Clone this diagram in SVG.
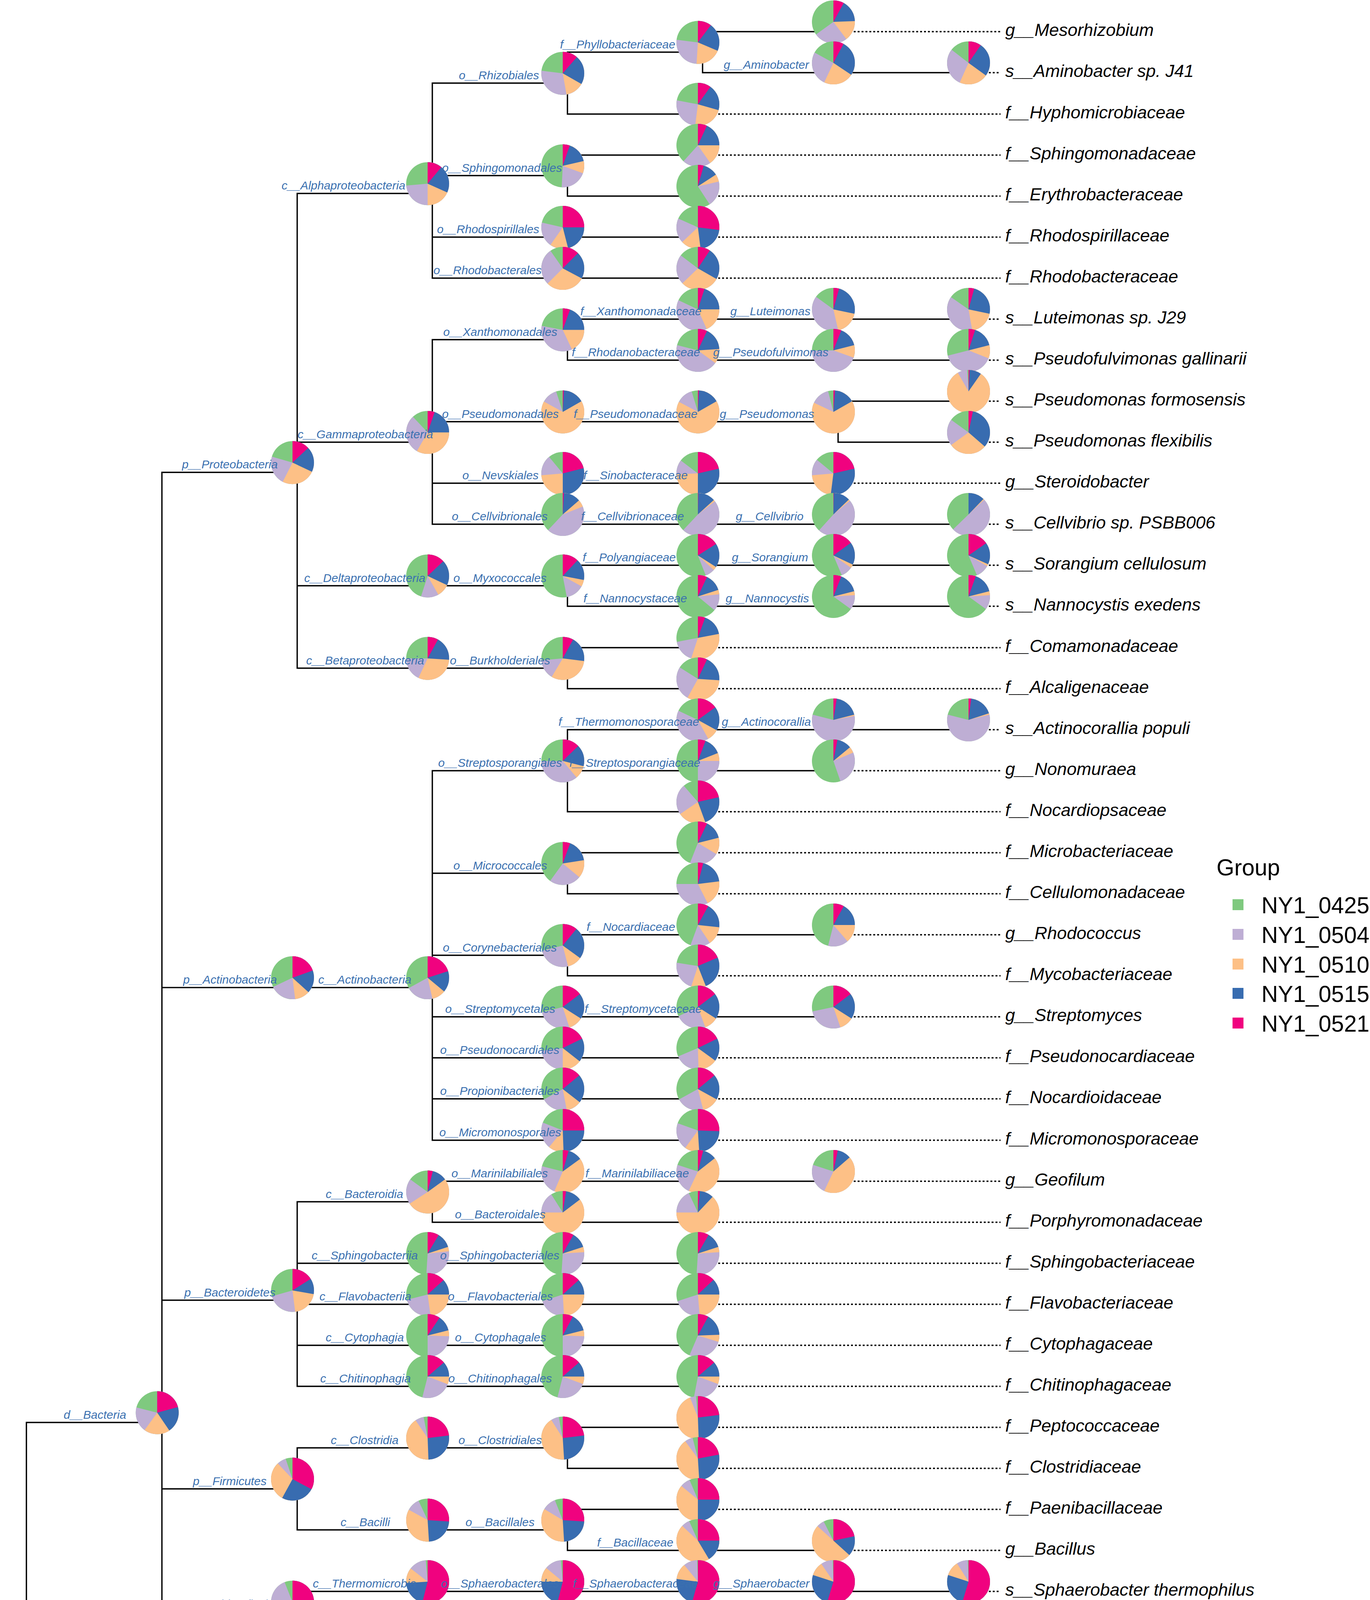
<svg xmlns="http://www.w3.org/2000/svg" width="3508" height="4948" viewBox="0 0 3508 4948">
<style>
.G{fill:#7FC97F}
.P,.O,.B,.K{fill:none;stroke-width:55}
.P{stroke:#BEAED4}.O{stroke:#FDC086}.B{stroke:#386CB0}.K{stroke:#F0027F}
.lb{font-family:"Liberation Sans",Arial,sans-serif;font-style:italic;font-size:30px;fill:#3A70B0}
.tl{font-family:"Liberation Sans",Arial,sans-serif;font-style:italic;font-size:45px;fill:#000}
.lg{font-family:"Liberation Sans",Arial,sans-serif;font-size:58.5px;fill:#000}
.e{fill:none;stroke:#000;stroke-width:3.4;stroke-linecap:square}
.d{fill:none;stroke:#000;stroke-width:3.4;stroke-dasharray:5 5}
</style>
<rect width="3508" height="4948" fill="#fff"/>
<g id="connectors">
<path class="e" d="M67.6 3641.5V4915M67.6 3641.5H414.6M67.6 4705H414.6M67.6 4810H414.6M67.6 4915H2146
M414.6 1209.3V4600M414.6 1209.3H761M414.6 2528.1H1107M414.6 3328.5H761M414.6 3811.5H761M414.6 4126.5H761M414.6 4285H761M414.6 4390H1799M414.6 4495H761M414.6 4600H761
M761 495.3V1710.5M761 495.3H1107M761 1132H1107M761 1499.5H1453M761 1710.5H1453
M1107 212.75V712M1107 212.75H1453M1107 449.5H1453M1107 607H1799M1107 712H1799
M1453 133.5V292M1453 133.5H1799M1453 292H1799
M1799 81V186M1799 81H2146M1799 186H2492
M1453 397V502M1453 397H1799M1453 502H1799
M1107 869.5V1342M1107 869.5H1453M1107 1079.5H2146M1107 1237H2146M1107 1342H2492
M1453 817V922M1453 817H2492M1453 922H2492
M2146 1027V1132M2146 1027H2492M2146 1132H2492
M1453 1447V1552M1453 1447H2492M1453 1552H2492
M1453 1658V1763M1453 1658H1799M1453 1763H1799
M1107 1973V2919M1107 1973H1453M1107 2235.5H1453M1107 2445.5H1453M1107 2603H2146M1107 2708H1799M1107 2813H1799M1107 2919H1799
M1453 1868V2078M1453 1868H2492M1453 1973H2146M1453 2078H1799
M1453 2183V2288M1453 2183H1799M1453 2288H1799
M1453 2393V2498M1453 2393H2146M1453 2498H1799
M761 3076.5V3549M761 3076.5H1107M761 3234H1799M761 3339H1799M761 3444H1799M761 3549H1799
M1107 3024V3129M1107 3024H2146M1107 3129H1799
M761 3706.5V3916.5M761 3706.5H1453M761 3916.5H1453
M1453 3654V3759M1453 3654H1799M1453 3759H1799
M1453 3864V3969M1453 3864H1799M1453 3969H2146
M761 4074V4179M761 4074H2492M761 4179H1799"/>
<path class="d" d="M2146 81H2562M2492 186H2562M1799 292H2562M1799 397H2562M1799 502H2562M1799 607H2562M1799 712H2562
M2492 817H2562M2492 922H2562M2492 1027H2562M2492 1132H2562M2146 1237H2562M2492 1342H2562M2492 1447H2562M2492 1552H2562
M1799 1658H2562M1799 1763H2562M2492 1868H2562M2146 1973H2562M1799 2078H2562M1799 2183H2562M1799 2288H2562M2146 2393H2562
M1799 2498H2562M2146 2603H2562M1799 2708H2562M1799 2813H2562M1799 2919H2562M2146 3024H2562M1799 3129H2562
M1799 3234H2562M1799 3339H2562M1799 3444H2562M1799 3549H2562M1799 3654H2562M1799 3759H2562M1799 3864H2562M2146 3969H2562
M2492 4074H2562M1799 4179H2562M761 4285H2562M1799 4390H2562M761 4495H2562M761 4600H2562M414.6 4705H2562M414.6 4810H2562M2146 4915H2562"/>
</g>
<g id="n-root"><g transform="translate(55.6 4492.9) rotate(-90)"><circle class="G" r="55"/><circle class="P" r="27.5" pathLength="100" stroke-dasharray="79.5 100"/><circle class="O" r="27.5" pathLength="100" stroke-dasharray="60 100"/><circle class="B" r="27.5" pathLength="100" stroke-dasharray="39.7 100"/><circle class="K" r="27.5" pathLength="100" stroke-dasharray="19 100"/></g><text class="lb" x="115" y="4520">r__Root</text></g>
<g id="n-bacteria"><g transform="translate(402.6 3616.5) rotate(-90)"><circle class="G" r="55"/><circle class="P" r="27.5" pathLength="100" stroke-dasharray="79 100"/><circle class="O" r="27.5" pathLength="100" stroke-dasharray="60 100"/><circle class="B" r="27.5" pathLength="100" stroke-dasharray="40.5 100"/><circle class="K" r="27.5" pathLength="100" stroke-dasharray="20.7 100"/></g><text class="lb" x="163" y="3631.5">d__Bacteria</text></g>
<g id="n-proteobacteria"><g transform="translate(749 1184.3) rotate(-90)"><circle class="G" r="55"/><circle class="P" r="27.5" pathLength="100" stroke-dasharray="79.5 100"/><circle class="O" r="27.5" pathLength="100" stroke-dasharray="57.5 100"/><circle class="B" r="27.5" pathLength="100" stroke-dasharray="32 100"/><circle class="K" r="27.5" pathLength="100" stroke-dasharray="13 100"/></g><text class="lb" x="466" y="1199.3">p__Proteobacteria</text></g>
<g id="n-alphaproteobacteria"><g transform="translate(1095 470.3) rotate(-90)"><circle class="G" r="55"/><circle class="P" r="27.5" pathLength="100" stroke-dasharray="73.6 100"/><circle class="O" r="27.5" pathLength="100" stroke-dasharray="50 100"/><circle class="B" r="27.5" pathLength="100" stroke-dasharray="31.7 100"/><circle class="K" r="27.5" pathLength="100" stroke-dasharray="11 100"/></g><text class="lb" x="721" y="485.3">c__Alphaproteobacteria</text></g>
<g id="n-rhizobiales"><g transform="translate(1441 187.75) rotate(-90)"><circle class="G" r="55"/><circle class="P" r="27.5" pathLength="100" stroke-dasharray="77 100"/><circle class="O" r="27.5" pathLength="100" stroke-dasharray="47.2 100"/><circle class="B" r="27.5" pathLength="100" stroke-dasharray="33.3 100"/><circle class="K" r="27.5" pathLength="100" stroke-dasharray="11.4 100"/></g><text class="lb" x="1175" y="202.75">o__Rhizobiales</text></g>
<g id="n-phyllobacteriaceae"><g transform="translate(1787 108.5) rotate(-90)"><circle class="G" r="55"/><circle class="P" r="27.5" pathLength="100" stroke-dasharray="77 100"/><circle class="O" r="27.5" pathLength="100" stroke-dasharray="51 100"/><circle class="B" r="27.5" pathLength="100" stroke-dasharray="31.4 100"/><circle class="K" r="27.5" pathLength="100" stroke-dasharray="10.3 100"/></g><text class="lb" x="1434" y="123.5">f__Phyllobacteriaceae</text></g>
<g id="n-mesorhizobium"><g transform="translate(2134 56) rotate(-90)"><circle class="G" r="55"/><circle class="P" r="27.5" pathLength="100" stroke-dasharray="65 100"/><circle class="O" r="27.5" pathLength="100" stroke-dasharray="39.7 100"/><circle class="B" r="27.5" pathLength="100" stroke-dasharray="24.4 100"/><circle class="K" r="27.5" pathLength="100" stroke-dasharray="8 100"/></g><text class="tl" x="2574" y="92">g__Mesorhizobium</text></g>
<g id="n-aminobacter-g"><g transform="translate(2134 161) rotate(-90)"><circle class="G" r="55"/><circle class="P" r="27.5" pathLength="100" stroke-dasharray="83 100"/><circle class="O" r="27.5" pathLength="100" stroke-dasharray="57 100"/><circle class="B" r="27.5" pathLength="100" stroke-dasharray="34.4 100"/><circle class="K" r="27.5" pathLength="100" stroke-dasharray="7.8 100"/></g><text class="lb" x="1853" y="176">g__Aminobacter</text></g>
<g id="n-aminobacter-s"><g transform="translate(2480 161) rotate(-90)"><circle class="G" r="55"/><circle class="P" r="27.5" pathLength="100" stroke-dasharray="85.5 100"/><circle class="O" r="27.5" pathLength="100" stroke-dasharray="56.7 100"/><circle class="B" r="27.5" pathLength="100" stroke-dasharray="35 100"/><circle class="K" r="27.5" pathLength="100" stroke-dasharray="9.6 100"/></g><text class="tl" x="2574" y="197">s__Aminobacter sp. J41</text></g>
<g id="n-hyphomicrobiaceae"><g transform="translate(1787 267) rotate(-90)"><circle class="G" r="55"/><circle class="P" r="27.5" pathLength="100" stroke-dasharray="78 100"/><circle class="O" r="27.5" pathLength="100" stroke-dasharray="52 100"/><circle class="B" r="27.5" pathLength="100" stroke-dasharray="29.4 100"/><circle class="K" r="27.5" pathLength="100" stroke-dasharray="9.9 100"/></g><text class="tl" x="2574" y="303">f__Hyphomicrobiaceae</text></g>
<g id="n-sphingomonadales"><g transform="translate(1441 424.5) rotate(-90)"><circle class="G" r="55"/><circle class="P" r="27.5" pathLength="100" stroke-dasharray="50.8 100"/><circle class="O" r="27.5" pathLength="100" stroke-dasharray="30.6 100"/><circle class="B" r="27.5" pathLength="100" stroke-dasharray="21.4 100"/><circle class="K" r="27.5" pathLength="100" stroke-dasharray="5.3 100"/></g><text class="lb" x="1132" y="439.5">o__Sphingomonadales</text></g>
<g id="n-sphingomonadaceae"><g transform="translate(1787 372) rotate(-90)"><circle class="G" r="55"/><circle class="P" r="27.5" pathLength="100" stroke-dasharray="61.7 100"/><circle class="O" r="27.5" pathLength="100" stroke-dasharray="40.3 100"/><circle class="B" r="27.5" pathLength="100" stroke-dasharray="25 100"/><circle class="K" r="27.5" pathLength="100" stroke-dasharray="6.9 100"/></g><text class="tl" x="2574" y="408">f__Sphingomonadaceae</text></g>
<g id="n-erythrobacteraceae"><g transform="translate(1787 477) rotate(-90)"><circle class="G" r="55"/><circle class="P" r="27.5" pathLength="100" stroke-dasharray="40.8 100"/><circle class="O" r="27.5" pathLength="100" stroke-dasharray="21.4 100"/><circle class="B" r="27.5" pathLength="100" stroke-dasharray="15.8 100"/><circle class="K" r="27.5" pathLength="100" stroke-dasharray="4.4 100"/></g><text class="tl" x="2574" y="513">f__Erythrobacteraceae</text></g>
<g id="n-rhodospirillales"><g transform="translate(1441 582) rotate(-90)"><circle class="G" r="55"/><circle class="P" r="27.5" pathLength="100" stroke-dasharray="78.6 100"/><circle class="O" r="27.5" pathLength="100" stroke-dasharray="59.7 100"/><circle class="B" r="27.5" pathLength="100" stroke-dasharray="46 100"/><circle class="K" r="27.5" pathLength="100" stroke-dasharray="25 100"/></g><text class="lb" x="1119" y="597">o__Rhodospirillales</text></g>
<g id="n-rhodospirillaceae"><g transform="translate(1787 582) rotate(-90)"><circle class="G" r="55"/><circle class="P" r="27.5" pathLength="100" stroke-dasharray="81.7 100"/><circle class="O" r="27.5" pathLength="100" stroke-dasharray="63 100"/><circle class="B" r="27.5" pathLength="100" stroke-dasharray="48 100"/><circle class="K" r="27.5" pathLength="100" stroke-dasharray="27 100"/></g><text class="tl" x="2574" y="618">f__Rhodospirillaceae</text></g>
<g id="n-rhodobacterales"><g transform="translate(1441 687) rotate(-90)"><circle class="G" r="55"/><circle class="P" r="27.5" pathLength="100" stroke-dasharray="90.3 100"/><circle class="O" r="27.5" pathLength="100" stroke-dasharray="62.5 100"/><circle class="B" r="27.5" pathLength="100" stroke-dasharray="32.8 100"/><circle class="K" r="27.5" pathLength="100" stroke-dasharray="12.5 100"/></g><text class="lb" x="1110" y="702">o__Rhodobacterales</text></g>
<g id="n-rhodobacteraceae"><g transform="translate(1787 687) rotate(-90)"><circle class="G" r="55"/><circle class="P" r="27.5" pathLength="100" stroke-dasharray="85.3 100"/><circle class="O" r="27.5" pathLength="100" stroke-dasharray="62.8 100"/><circle class="B" r="27.5" pathLength="100" stroke-dasharray="33.3 100"/><circle class="K" r="27.5" pathLength="100" stroke-dasharray="9.4 100"/></g><text class="tl" x="2574" y="723">f__Rhodobacteraceae</text></g>
<g id="n-gammaproteobacteria"><g transform="translate(1095 1107) rotate(-90)"><circle class="G" r="55"/><circle class="P" r="27.5" pathLength="100" stroke-dasharray="88 100"/><circle class="O" r="27.5" pathLength="100" stroke-dasharray="58.3 100"/><circle class="B" r="27.5" pathLength="100" stroke-dasharray="25 100"/><circle class="K" r="27.5" pathLength="100" stroke-dasharray="5.3 100"/></g><text class="lb" x="762" y="1122">c__Gammaproteobacteria</text></g>
<g id="n-xanthomonadales"><g transform="translate(1441 844.5) rotate(-90)"><circle class="G" r="55"/><circle class="P" r="27.5" pathLength="100" stroke-dasharray="78 100"/><circle class="O" r="27.5" pathLength="100" stroke-dasharray="43 100"/><circle class="B" r="27.5" pathLength="100" stroke-dasharray="25 100"/><circle class="K" r="27.5" pathLength="100" stroke-dasharray="5.5 100"/></g><text class="lb" x="1135" y="859.5">o__Xanthomonadales</text></g>
<g id="n-xanthomonadaceae"><g transform="translate(1787 792) rotate(-90)"><circle class="G" r="55"/><circle class="P" r="27.5" pathLength="100" stroke-dasharray="82 100"/><circle class="O" r="27.5" pathLength="100" stroke-dasharray="43.3 100"/><circle class="B" r="27.5" pathLength="100" stroke-dasharray="25 100"/><circle class="K" r="27.5" pathLength="100" stroke-dasharray="5 100"/></g><text class="lb" x="1486" y="807">f__Xanthomonadaceae</text></g>
<g id="n-luteimonas-g"><g transform="translate(2134 792) rotate(-90)"><circle class="G" r="55"/><circle class="P" r="27.5" pathLength="100" stroke-dasharray="85 100"/><circle class="O" r="27.5" pathLength="100" stroke-dasharray="46.4 100"/><circle class="B" r="27.5" pathLength="100" stroke-dasharray="28.3 100"/><circle class="K" r="27.5" pathLength="100" stroke-dasharray="4.3 100"/></g><text class="lb" x="1870" y="807">g__Luteimonas</text></g>
<g id="n-luteimonas-s"><g transform="translate(2480 792) rotate(-90)"><circle class="G" r="55"/><circle class="P" r="27.5" pathLength="100" stroke-dasharray="84.7 100"/><circle class="O" r="27.5" pathLength="100" stroke-dasharray="47.2 100"/><circle class="B" r="27.5" pathLength="100" stroke-dasharray="28.3 100"/><circle class="K" r="27.5" pathLength="100" stroke-dasharray="4.3 100"/></g><text class="tl" x="2574" y="828">s__Luteimonas sp. J29</text></g>
<g id="n-rhodanobacteraceae"><g transform="translate(1787 897) rotate(-90)"><circle class="G" r="55"/><circle class="P" r="27.5" pathLength="100" stroke-dasharray="79 100"/><circle class="O" r="27.5" pathLength="100" stroke-dasharray="35 100"/><circle class="B" r="27.5" pathLength="100" stroke-dasharray="24 100"/><circle class="K" r="27.5" pathLength="100" stroke-dasharray="7 100"/></g><text class="lb" x="1464" y="912">f__Rhodanobacteraceae</text></g>
<g id="n-pseudofulvimonas-g"><g transform="translate(2134 897) rotate(-90)"><circle class="G" r="55"/><circle class="P" r="27.5" pathLength="100" stroke-dasharray="75 100"/><circle class="O" r="27.5" pathLength="100" stroke-dasharray="30.5 100"/><circle class="B" r="27.5" pathLength="100" stroke-dasharray="21 100"/><circle class="K" r="27.5" pathLength="100" stroke-dasharray="6 100"/></g><text class="lb" x="1826" y="912">g__Pseudofulvimonas</text></g>
<g id="n-pseudofulvimonas-s"><g transform="translate(2480 897) rotate(-90)"><circle class="G" r="55"/><circle class="P" r="27.5" pathLength="100" stroke-dasharray="71 100"/><circle class="O" r="27.5" pathLength="100" stroke-dasharray="31 100"/><circle class="B" r="27.5" pathLength="100" stroke-dasharray="21 100"/><circle class="K" r="27.5" pathLength="100" stroke-dasharray="5 100"/></g><text class="tl" x="2574" y="933">s__Pseudofulvimonas gallinarii</text></g>
<g id="n-pseudomonadales"><g transform="translate(1441 1054.5) rotate(-90)"><circle class="G" r="55"/><circle class="P" r="27.5" pathLength="100" stroke-dasharray="95 100"/><circle class="O" r="27.5" pathLength="100" stroke-dasharray="83 100"/><circle class="B" r="27.5" pathLength="100" stroke-dasharray="16.7 100"/><circle class="K" r="27.5" pathLength="100" stroke-dasharray="0.8 100"/></g><text class="lb" x="1132" y="1069.5">o__Pseudomonadales</text></g>
<g id="n-pseudomonadaceae"><g transform="translate(1787 1054.5) rotate(-90)"><circle class="G" r="55"/><circle class="P" r="27.5" pathLength="100" stroke-dasharray="95.3 100"/><circle class="O" r="27.5" pathLength="100" stroke-dasharray="82.8 100"/><circle class="B" r="27.5" pathLength="100" stroke-dasharray="16.7 100"/><circle class="K" r="27.5" pathLength="100" stroke-dasharray="0.8 100"/></g><text class="lb" x="1469" y="1069.5">f__Pseudomonadaceae</text></g>
<g id="n-pseudomonas-g"><g transform="translate(2134 1054.5) rotate(-90)"><circle class="G" r="55"/><circle class="P" r="27.5" pathLength="100" stroke-dasharray="96 100"/><circle class="O" r="27.5" pathLength="100" stroke-dasharray="82 100"/><circle class="B" r="27.5" pathLength="100" stroke-dasharray="16.7 100"/><circle class="K" r="27.5" pathLength="100" stroke-dasharray="1.2 100"/></g><text class="lb" x="1843" y="1069.5">g__Pseudomonas</text></g>
<g id="n-pseudomonas-formosensis"><g transform="translate(2480 1002) rotate(-90)"><circle class="G" r="55"/><circle class="P" r="27.5" pathLength="100" stroke-dasharray="99 100"/><circle class="O" r="27.5" pathLength="100" stroke-dasharray="91.7 100"/><circle class="B" r="27.5" pathLength="100" stroke-dasharray="9.7 100"/><circle class="K" r="27.5" pathLength="100" stroke-dasharray="0.8 100"/></g><text class="tl" x="2574" y="1038">s__Pseudomonas formosensis</text></g>
<g id="n-pseudomonas-flexibilis"><g transform="translate(2480 1107) rotate(-90)"><circle class="G" r="55"/><circle class="P" r="27.5" pathLength="100" stroke-dasharray="85 100"/><circle class="O" r="27.5" pathLength="100" stroke-dasharray="65 100"/><circle class="B" r="27.5" pathLength="100" stroke-dasharray="36.4 100"/><circle class="K" r="27.5" pathLength="100" stroke-dasharray="3.3 100"/></g><text class="tl" x="2574" y="1143">s__Pseudomonas flexibilis</text></g>
<g id="n-nevskiales"><g transform="translate(1441 1212) rotate(-90)"><circle class="G" r="55"/><circle class="P" r="27.5" pathLength="100" stroke-dasharray="89 100"/><circle class="O" r="27.5" pathLength="100" stroke-dasharray="73.6 100"/><circle class="B" r="27.5" pathLength="100" stroke-dasharray="50 100"/><circle class="K" r="27.5" pathLength="100" stroke-dasharray="21 100"/></g><text class="lb" x="1184" y="1227">o__Nevskiales</text></g>
<g id="n-sinobacteraceae"><g transform="translate(1787 1212) rotate(-90)"><circle class="G" r="55"/><circle class="P" r="27.5" pathLength="100" stroke-dasharray="85.3 100"/><circle class="O" r="27.5" pathLength="100" stroke-dasharray="74.4 100"/><circle class="B" r="27.5" pathLength="100" stroke-dasharray="50 100"/><circle class="K" r="27.5" pathLength="100" stroke-dasharray="21.4 100"/></g><text class="lb" x="1494" y="1227">f__Sinobacteraceae</text></g>
<g id="n-steroidobacter"><g transform="translate(2134 1212) rotate(-90)"><circle class="G" r="55"/><circle class="P" r="27.5" pathLength="100" stroke-dasharray="86 100"/><circle class="O" r="27.5" pathLength="100" stroke-dasharray="73.6 100"/><circle class="B" r="27.5" pathLength="100" stroke-dasharray="52 100"/><circle class="K" r="27.5" pathLength="100" stroke-dasharray="21.4 100"/></g><text class="tl" x="2574" y="1248">g__Steroidobacter</text></g>
<g id="n-cellvibrionales"><g transform="translate(1441 1317) rotate(-90)"><circle class="G" r="55"/><circle class="P" r="27.5" pathLength="100" stroke-dasharray="62 100"/><circle class="O" r="27.5" pathLength="100" stroke-dasharray="19 100"/><circle class="B" r="27.5" pathLength="100" stroke-dasharray="13.6 100"/><circle class="K" r="27.5" pathLength="100" stroke-dasharray="0.8 100"/></g><text class="lb" x="1157" y="1332">o__Cellvibrionales</text></g>
<g id="n-cellvibrionaceae"><g transform="translate(1787 1317) rotate(-90)"><circle class="G" r="55"/><circle class="P" r="27.5" pathLength="100" stroke-dasharray="62 100"/><circle class="O" r="27.5" pathLength="100" stroke-dasharray="14.5 100"/><circle class="B" r="27.5" pathLength="100" stroke-dasharray="13.3 100"/><circle class="K" r="27.5" pathLength="100" stroke-dasharray="0.3 100"/></g><text class="lb" x="1488" y="1332">f__Cellvibrionaceae</text></g>
<g id="n-cellvibrio-g"><g transform="translate(2134 1317) rotate(-90)"><circle class="G" r="55"/><circle class="P" r="27.5" pathLength="100" stroke-dasharray="61.7 100"/><circle class="O" r="27.5" pathLength="100" stroke-dasharray="13.9 100"/><circle class="B" r="27.5" pathLength="100" stroke-dasharray="12.8 100"/><circle class="K" r="27.5" pathLength="100" stroke-dasharray="0.3 100"/></g><text class="lb" x="1884" y="1332">g__Cellvibrio</text></g>
<g id="n-cellvibrio-s"><g transform="translate(2480 1317) rotate(-90)"><circle class="G" r="55"/><circle class="P" r="27.5" pathLength="100" stroke-dasharray="62.8 100"/><circle class="O" r="27.5" pathLength="100" stroke-dasharray="13 100"/><circle class="B" r="27.5" pathLength="100" stroke-dasharray="12.2 100"/></g><text class="tl" x="2574" y="1353">s__Cellvibrio sp. PSBB006</text></g>
<g id="n-deltaproteobacteria"><g transform="translate(1095 1474.5) rotate(-90)"><circle class="G" r="55"/><circle class="P" r="27.5" pathLength="100" stroke-dasharray="55 100"/><circle class="O" r="27.5" pathLength="100" stroke-dasharray="41.7 100"/><circle class="B" r="27.5" pathLength="100" stroke-dasharray="32 100"/><circle class="K" r="27.5" pathLength="100" stroke-dasharray="13 100"/></g><text class="lb" x="779" y="1489.5">c__Deltaproteobacteria</text></g>
<g id="n-myxococcales"><g transform="translate(1441 1474.5) rotate(-90)"><circle class="G" r="55"/><circle class="P" r="27.5" pathLength="100" stroke-dasharray="47 100"/><circle class="O" r="27.5" pathLength="100" stroke-dasharray="33 100"/><circle class="B" r="27.5" pathLength="100" stroke-dasharray="28 100"/><circle class="K" r="27.5" pathLength="100" stroke-dasharray="12 100"/></g><text class="lb" x="1161" y="1489.5">o__Myxococcales</text></g>
<g id="n-polyangiaceae"><g transform="translate(1787 1422) rotate(-90)"><circle class="G" r="55"/><circle class="P" r="27.5" pathLength="100" stroke-dasharray="44 100"/><circle class="O" r="27.5" pathLength="100" stroke-dasharray="36.7 100"/><circle class="B" r="27.5" pathLength="100" stroke-dasharray="34 100"/><circle class="K" r="27.5" pathLength="100" stroke-dasharray="16 100"/></g><text class="lb" x="1492" y="1437">f__Polyangiaceae</text></g>
<g id="n-sorangium-g"><g transform="translate(2134 1422) rotate(-90)"><circle class="G" r="55"/><circle class="P" r="27.5" pathLength="100" stroke-dasharray="43.6 100"/><circle class="O" r="27.5" pathLength="100" stroke-dasharray="34.7 100"/><circle class="B" r="27.5" pathLength="100" stroke-dasharray="32 100"/><circle class="K" r="27.5" pathLength="100" stroke-dasharray="15 100"/></g><text class="lb" x="1874" y="1437">g__Sorangium</text></g>
<g id="n-sorangium-s"><g transform="translate(2480 1422) rotate(-90)"><circle class="G" r="55"/><circle class="P" r="27.5" pathLength="100" stroke-dasharray="43.6 100"/><circle class="O" r="27.5" pathLength="100" stroke-dasharray="33.3 100"/><circle class="B" r="27.5" pathLength="100" stroke-dasharray="31.7 100"/><circle class="K" r="27.5" pathLength="100" stroke-dasharray="15.3 100"/></g><text class="tl" x="2574" y="1458">s__Sorangium cellulosum</text></g>
<g id="n-nannocystaceae"><g transform="translate(1787 1527) rotate(-90)"><circle class="G" r="55"/><circle class="P" r="27.5" pathLength="100" stroke-dasharray="36 100"/><circle class="O" r="27.5" pathLength="100" stroke-dasharray="23.3 100"/><circle class="B" r="27.5" pathLength="100" stroke-dasharray="20 100"/><circle class="K" r="27.5" pathLength="100" stroke-dasharray="7 100"/></g><text class="lb" x="1494" y="1542">f__Nannocystaceae</text></g>
<g id="n-nannocystis-g"><g transform="translate(2134 1527) rotate(-90)"><circle class="G" r="55"/><circle class="P" r="27.5" pathLength="100" stroke-dasharray="35 100"/><circle class="O" r="27.5" pathLength="100" stroke-dasharray="24 100"/><circle class="B" r="27.5" pathLength="100" stroke-dasharray="21 100"/><circle class="K" r="27.5" pathLength="100" stroke-dasharray="6 100"/></g><text class="lb" x="1858" y="1542">g__Nannocystis</text></g>
<g id="n-nannocystis-s"><g transform="translate(2480 1527) rotate(-90)"><circle class="G" r="55"/><circle class="P" r="27.5" pathLength="100" stroke-dasharray="35 100"/><circle class="O" r="27.5" pathLength="100" stroke-dasharray="24 100"/><circle class="B" r="27.5" pathLength="100" stroke-dasharray="21 100"/><circle class="K" r="27.5" pathLength="100" stroke-dasharray="5.5 100"/></g><text class="tl" x="2574" y="1563">s__Nannocystis exedens</text></g>
<g id="n-betaproteobacteria"><g transform="translate(1095 1685.5) rotate(-90)"><circle class="G" r="55"/><circle class="P" r="27.5" pathLength="100" stroke-dasharray="75 100"/><circle class="O" r="27.5" pathLength="100" stroke-dasharray="57 100"/><circle class="B" r="27.5" pathLength="100" stroke-dasharray="26 100"/><circle class="K" r="27.5" pathLength="100" stroke-dasharray="8 100"/></g><text class="lb" x="784" y="1700.5">c__Betaproteobacteria</text></g>
<g id="n-burkholderiales"><g transform="translate(1441 1685.5) rotate(-90)"><circle class="G" r="55"/><circle class="P" r="27.5" pathLength="100" stroke-dasharray="73.6 100"/><circle class="O" r="27.5" pathLength="100" stroke-dasharray="58.6 100"/><circle class="B" r="27.5" pathLength="100" stroke-dasharray="27 100"/><circle class="K" r="27.5" pathLength="100" stroke-dasharray="8 100"/></g><text class="lb" x="1152" y="1700.5">o__Burkholderiales</text></g>
<g id="n-comamonadaceae"><g transform="translate(1787 1633) rotate(-90)"><circle class="G" r="55"/><circle class="P" r="27.5" pathLength="100" stroke-dasharray="72 100"/><circle class="O" r="27.5" pathLength="100" stroke-dasharray="55 100"/><circle class="B" r="27.5" pathLength="100" stroke-dasharray="22 100"/><circle class="K" r="27.5" pathLength="100" stroke-dasharray="5.5 100"/></g><text class="tl" x="2574" y="1669">f__Comamonadaceae</text></g>
<g id="n-alcaligenaceae"><g transform="translate(1787 1738) rotate(-90)"><circle class="G" r="55"/><circle class="P" r="27.5" pathLength="100" stroke-dasharray="84 100"/><circle class="O" r="27.5" pathLength="100" stroke-dasharray="58 100"/><circle class="B" r="27.5" pathLength="100" stroke-dasharray="26 100"/><circle class="K" r="27.5" pathLength="100" stroke-dasharray="7 100"/></g><text class="tl" x="2574" y="1774">f__Alcaligenaceae</text></g>
<g id="n-actinobacteria-p"><g transform="translate(749 2503.1) rotate(-90)"><circle class="G" r="55"/><circle class="P" r="27.5" pathLength="100" stroke-dasharray="68 100"/><circle class="O" r="27.5" pathLength="100" stroke-dasharray="48 100"/><circle class="B" r="27.5" pathLength="100" stroke-dasharray="36.7 100"/><circle class="K" r="27.5" pathLength="100" stroke-dasharray="19.5 100"/></g><text class="lb" x="469" y="2518.1">p__Actinobacteria</text></g>
<g id="n-actinobacteria-c"><g transform="translate(1095 2503.1) rotate(-90)"><circle class="G" r="55"/><circle class="P" r="27.5" pathLength="100" stroke-dasharray="67 100"/><circle class="O" r="27.5" pathLength="100" stroke-dasharray="46.4 100"/><circle class="B" r="27.5" pathLength="100" stroke-dasharray="36 100"/><circle class="K" r="27.5" pathLength="100" stroke-dasharray="20 100"/></g><text class="lb" x="815" y="2518.1">c__Actinobacteria</text></g>
<g id="n-streptosporangiales"><g transform="translate(1441 1948) rotate(-90)"><circle class="G" r="55"/><circle class="P" r="27.5" pathLength="100" stroke-dasharray="75 100"/><circle class="O" r="27.5" pathLength="100" stroke-dasharray="38.9 100"/><circle class="B" r="27.5" pathLength="100" stroke-dasharray="29 100"/><circle class="K" r="27.5" pathLength="100" stroke-dasharray="12.8 100"/></g><text class="lb" x="1122" y="1963">o__Streptosporangiales</text></g>
<g id="n-thermomonosporaceae"><g transform="translate(1787 1843) rotate(-90)"><circle class="G" r="55"/><circle class="P" r="27.5" pathLength="100" stroke-dasharray="82 100"/><circle class="O" r="27.5" pathLength="100" stroke-dasharray="42 100"/><circle class="B" r="27.5" pathLength="100" stroke-dasharray="33 100"/><circle class="K" r="27.5" pathLength="100" stroke-dasharray="15 100"/></g><text class="lb" x="1430" y="1858">f__Thermomonosporaceae</text></g>
<g id="n-actinocorallia-g"><g transform="translate(2134 1843) rotate(-90)"><circle class="G" r="55"/><circle class="P" r="27.5" pathLength="100" stroke-dasharray="79 100"/><circle class="O" r="27.5" pathLength="100" stroke-dasharray="22 100"/><circle class="B" r="27.5" pathLength="100" stroke-dasharray="21 100"/><circle class="K" r="27.5" pathLength="100" stroke-dasharray="2.5 100"/></g><text class="lb" x="1848" y="1858">g__Actinocorallia</text></g>
<g id="n-actinocorallia-s"><g transform="translate(2480 1843) rotate(-90)"><circle class="G" r="55"/><circle class="P" r="27.5" pathLength="100" stroke-dasharray="79 100"/><circle class="O" r="27.5" pathLength="100" stroke-dasharray="21 100"/><circle class="B" r="27.5" pathLength="100" stroke-dasharray="20 100"/><circle class="K" r="27.5" pathLength="100" stroke-dasharray="2 100"/></g><text class="tl" x="2574" y="1879">s__Actinocorallia populi</text></g>
<g id="n-streptosporangiaceae"><g transform="translate(1787 1948) rotate(-90)"><circle class="G" r="55"/><circle class="P" r="27.5" pathLength="100" stroke-dasharray="50 100"/><circle class="O" r="27.5" pathLength="100" stroke-dasharray="25 100"/><circle class="B" r="27.5" pathLength="100" stroke-dasharray="19 100"/><circle class="K" r="27.5" pathLength="100" stroke-dasharray="5.8 100"/></g><text class="lb" x="1458" y="1963">f__Streptosporangiaceae</text></g>
<g id="n-nonomuraea"><g transform="translate(2134 1948) rotate(-90)"><circle class="G" r="55"/><circle class="P" r="27.5" pathLength="100" stroke-dasharray="44.7 100"/><circle class="O" r="27.5" pathLength="100" stroke-dasharray="18.6 100"/><circle class="B" r="27.5" pathLength="100" stroke-dasharray="14 100"/><circle class="K" r="27.5" pathLength="100" stroke-dasharray="3 100"/></g><text class="tl" x="2574" y="1984">g__Nonomuraea</text></g>
<g id="n-nocardiopsaceae"><g transform="translate(1787 2053) rotate(-90)"><circle class="G" r="55"/><circle class="P" r="27.5" pathLength="100" stroke-dasharray="88.6 100"/><circle class="O" r="27.5" pathLength="100" stroke-dasharray="65.5 100"/><circle class="B" r="27.5" pathLength="100" stroke-dasharray="44.4 100"/><circle class="K" r="27.5" pathLength="100" stroke-dasharray="21.4 100"/></g><text class="tl" x="2574" y="2089">f__Nocardiopsaceae</text></g>
<g id="n-micrococcales"><g transform="translate(1441 2210.5) rotate(-90)"><circle class="G" r="55"/><circle class="P" r="27.5" pathLength="100" stroke-dasharray="60 100"/><circle class="O" r="27.5" pathLength="100" stroke-dasharray="36 100"/><circle class="B" r="27.5" pathLength="100" stroke-dasharray="22.5 100"/><circle class="K" r="27.5" pathLength="100" stroke-dasharray="5.6 100"/></g><text class="lb" x="1161" y="2225.5">o__Micrococcales</text></g>
<g id="n-microbacteriaceae"><g transform="translate(1787 2158) rotate(-90)"><circle class="G" r="55"/><circle class="P" r="27.5" pathLength="100" stroke-dasharray="56 100"/><circle class="O" r="27.5" pathLength="100" stroke-dasharray="33.6 100"/><circle class="B" r="27.5" pathLength="100" stroke-dasharray="21 100"/><circle class="K" r="27.5" pathLength="100" stroke-dasharray="7 100"/></g><text class="tl" x="2574" y="2194">f__Microbacteriaceae</text></g>
<g id="n-cellulomonadaceae"><g transform="translate(1787 2263) rotate(-90)"><circle class="G" r="55"/><circle class="P" r="27.5" pathLength="100" stroke-dasharray="75 100"/><circle class="O" r="27.5" pathLength="100" stroke-dasharray="42.5 100"/><circle class="B" r="27.5" pathLength="100" stroke-dasharray="23 100"/><circle class="K" r="27.5" pathLength="100" stroke-dasharray="4 100"/></g><text class="tl" x="2574" y="2299">f__Cellulomonadaceae</text></g>
<g id="n-corynebacteriales"><g transform="translate(1441 2420.5) rotate(-90)"><circle class="G" r="55"/><circle class="P" r="27.5" pathLength="100" stroke-dasharray="71 100"/><circle class="O" r="27.5" pathLength="100" stroke-dasharray="46 100"/><circle class="B" r="27.5" pathLength="100" stroke-dasharray="35 100"/><circle class="K" r="27.5" pathLength="100" stroke-dasharray="11 100"/></g><text class="lb" x="1134" y="2435.5">o__Corynebacteriales</text></g>
<g id="n-nocardiaceae"><g transform="translate(1787 2368) rotate(-90)"><circle class="G" r="55"/><circle class="P" r="27.5" pathLength="100" stroke-dasharray="55.6 100"/><circle class="O" r="27.5" pathLength="100" stroke-dasharray="40.6 100"/><circle class="B" r="27.5" pathLength="100" stroke-dasharray="26.7 100"/><circle class="K" r="27.5" pathLength="100" stroke-dasharray="8 100"/></g><text class="lb" x="1502" y="2383">f__Nocardiaceae</text></g>
<g id="n-rhodococcus"><g transform="translate(2134 2368) rotate(-90)"><circle class="G" r="55"/><circle class="P" r="27.5" pathLength="100" stroke-dasharray="54 100"/><circle class="O" r="27.5" pathLength="100" stroke-dasharray="38.6 100"/><circle class="B" r="27.5" pathLength="100" stroke-dasharray="25 100"/><circle class="K" r="27.5" pathLength="100" stroke-dasharray="8 100"/></g><text class="tl" x="2574" y="2404">g__Rhodococcus</text></g>
<g id="n-mycobacteriaceae"><g transform="translate(1787 2473) rotate(-90)"><circle class="G" r="55"/><circle class="P" r="27.5" pathLength="100" stroke-dasharray="77.5 100"/><circle class="O" r="27.5" pathLength="100" stroke-dasharray="55 100"/><circle class="B" r="27.5" pathLength="100" stroke-dasharray="44 100"/><circle class="K" r="27.5" pathLength="100" stroke-dasharray="18.6 100"/></g><text class="tl" x="2574" y="2509">f__Mycobacteriaceae</text></g>
<g id="n-streptomycetales"><g transform="translate(1441 2578) rotate(-90)"><circle class="G" r="55"/><circle class="P" r="27.5" pathLength="100" stroke-dasharray="71 100"/><circle class="O" r="27.5" pathLength="100" stroke-dasharray="45 100"/><circle class="B" r="27.5" pathLength="100" stroke-dasharray="34 100"/><circle class="K" r="27.5" pathLength="100" stroke-dasharray="14.7 100"/></g><text class="lb" x="1140" y="2593">o__Streptomycetales</text></g>
<g id="n-streptomycetaceae"><g transform="translate(1787 2578) rotate(-90)"><circle class="G" r="55"/><circle class="P" r="27.5" pathLength="100" stroke-dasharray="68 100"/><circle class="O" r="27.5" pathLength="100" stroke-dasharray="44.4 100"/><circle class="B" r="27.5" pathLength="100" stroke-dasharray="34 100"/><circle class="K" r="27.5" pathLength="100" stroke-dasharray="14.7 100"/></g><text class="lb" x="1497" y="2593">f__Streptomycetaceae</text></g>
<g id="n-streptomyces"><g transform="translate(2134 2578) rotate(-90)"><circle class="G" r="55"/><circle class="P" r="27.5" pathLength="100" stroke-dasharray="71.7 100"/><circle class="O" r="27.5" pathLength="100" stroke-dasharray="44.7 100"/><circle class="B" r="27.5" pathLength="100" stroke-dasharray="34 100"/><circle class="K" r="27.5" pathLength="100" stroke-dasharray="14.7 100"/></g><text class="tl" x="2574" y="2614">g__Streptomyces</text></g>
<g id="n-pseudonocardiales"><g transform="translate(1441 2683) rotate(-90)"><circle class="G" r="55"/><circle class="P" r="27.5" pathLength="100" stroke-dasharray="73 100"/><circle class="O" r="27.5" pathLength="100" stroke-dasharray="50 100"/><circle class="B" r="27.5" pathLength="100" stroke-dasharray="35.6 100"/><circle class="K" r="27.5" pathLength="100" stroke-dasharray="17.8 100"/></g><text class="lb" x="1127" y="2698">o__Pseudonocardiales</text></g>
<g id="n-pseudonocardiaceae"><g transform="translate(1787 2683) rotate(-90)"><circle class="G" r="55"/><circle class="P" r="27.5" pathLength="100" stroke-dasharray="68.6 100"/><circle class="O" r="27.5" pathLength="100" stroke-dasharray="49.5 100"/><circle class="B" r="27.5" pathLength="100" stroke-dasharray="35 100"/><circle class="K" r="27.5" pathLength="100" stroke-dasharray="17.8 100"/></g><text class="tl" x="2574" y="2719">f__Pseudonocardiaceae</text></g>
<g id="n-propionibacteriales"><g transform="translate(1441 2788) rotate(-90)"><circle class="G" r="55"/><circle class="P" r="27.5" pathLength="100" stroke-dasharray="67 100"/><circle class="O" r="27.5" pathLength="100" stroke-dasharray="47 100"/><circle class="B" r="27.5" pathLength="100" stroke-dasharray="35.5 100"/><circle class="K" r="27.5" pathLength="100" stroke-dasharray="14 100"/></g><text class="lb" x="1127" y="2803">o__Propionibacteriales</text></g>
<g id="n-nocardioidaceae"><g transform="translate(1787 2788) rotate(-90)"><circle class="G" r="55"/><circle class="P" r="27.5" pathLength="100" stroke-dasharray="67 100"/><circle class="O" r="27.5" pathLength="100" stroke-dasharray="46 100"/><circle class="B" r="27.5" pathLength="100" stroke-dasharray="33 100"/><circle class="K" r="27.5" pathLength="100" stroke-dasharray="14 100"/></g><text class="tl" x="2574" y="2824">f__Nocardioidaceae</text></g>
<g id="n-micromonosporales"><g transform="translate(1441 2894) rotate(-90)"><circle class="G" r="55"/><circle class="P" r="27.5" pathLength="100" stroke-dasharray="81 100"/><circle class="O" r="27.5" pathLength="100" stroke-dasharray="61 100"/><circle class="B" r="27.5" pathLength="100" stroke-dasharray="49.4 100"/><circle class="K" r="27.5" pathLength="100" stroke-dasharray="25 100"/></g><text class="lb" x="1125" y="2909">o__Micromonosporales</text></g>
<g id="n-micromonosporaceae"><g transform="translate(1787 2894) rotate(-90)"><circle class="G" r="55"/><circle class="P" r="27.5" pathLength="100" stroke-dasharray="80.5 100"/><circle class="O" r="27.5" pathLength="100" stroke-dasharray="60 100"/><circle class="B" r="27.5" pathLength="100" stroke-dasharray="49 100"/><circle class="K" r="27.5" pathLength="100" stroke-dasharray="25.5 100"/></g><text class="tl" x="2574" y="2930">f__Micromonosporaceae</text></g>
<g id="n-bacteroidetes"><g transform="translate(749 3303.5) rotate(-90)"><circle class="G" r="55"/><circle class="P" r="27.5" pathLength="100" stroke-dasharray="70.6 100"/><circle class="O" r="27.5" pathLength="100" stroke-dasharray="48 100"/><circle class="B" r="27.5" pathLength="100" stroke-dasharray="27.8 100"/><circle class="K" r="27.5" pathLength="100" stroke-dasharray="16 100"/></g><text class="lb" x="472" y="3318.5">p__Bacteroidetes</text></g>
<g id="n-bacteroidia"><g transform="translate(1095 3051.5) rotate(-90)"><circle class="G" r="55"/><circle class="P" r="27.5" pathLength="100" stroke-dasharray="85 100"/><circle class="O" r="27.5" pathLength="100" stroke-dasharray="65.8 100"/><circle class="B" r="27.5" pathLength="100" stroke-dasharray="15 100"/><circle class="K" r="27.5" pathLength="100" stroke-dasharray="3.9 100"/></g><text class="lb" x="834" y="3066.5">c__Bacteroidia</text></g>
<g id="n-marinilabiliales"><g transform="translate(1441 2999) rotate(-90)"><circle class="G" r="55"/><circle class="P" r="27.5" pathLength="100" stroke-dasharray="79 100"/><circle class="O" r="27.5" pathLength="100" stroke-dasharray="56.4 100"/><circle class="B" r="27.5" pathLength="100" stroke-dasharray="15 100"/><circle class="K" r="27.5" pathLength="100" stroke-dasharray="4.4 100"/></g><text class="lb" x="1156" y="3014">o__Marinilabiliales</text></g>
<g id="n-marinilabiliaceae"><g transform="translate(1787 2999) rotate(-90)"><circle class="G" r="55"/><circle class="P" r="27.5" pathLength="100" stroke-dasharray="80 100"/><circle class="O" r="27.5" pathLength="100" stroke-dasharray="57 100"/><circle class="B" r="27.5" pathLength="100" stroke-dasharray="14.4 100"/><circle class="K" r="27.5" pathLength="100" stroke-dasharray="4 100"/></g><text class="lb" x="1499" y="3014">f__Marinilabiliaceae</text></g>
<g id="n-geofilum"><g transform="translate(2134 2999) rotate(-90)"><circle class="G" r="55"/><circle class="P" r="27.5" pathLength="100" stroke-dasharray="80 100"/><circle class="O" r="27.5" pathLength="100" stroke-dasharray="57 100"/><circle class="B" r="27.5" pathLength="100" stroke-dasharray="13.6 100"/><circle class="K" r="27.5" pathLength="100" stroke-dasharray="3.3 100"/></g><text class="tl" x="2574" y="3035">g__Geofilum</text></g>
<g id="n-bacteroidales"><g transform="translate(1441 3104) rotate(-90)"><circle class="G" r="55"/><circle class="P" r="27.5" pathLength="100" stroke-dasharray="91 100"/><circle class="O" r="27.5" pathLength="100" stroke-dasharray="75 100"/><circle class="B" r="27.5" pathLength="100" stroke-dasharray="14.7 100"/><circle class="K" r="27.5" pathLength="100" stroke-dasharray="2.5 100"/></g><text class="lb" x="1165" y="3119">o__Bacteroidales</text></g>
<g id="n-porphyromonadaceae"><g transform="translate(1787 3104) rotate(-90)"><circle class="G" r="55"/><circle class="P" r="27.5" pathLength="100" stroke-dasharray="93 100"/><circle class="O" r="27.5" pathLength="100" stroke-dasharray="75 100"/><circle class="B" r="27.5" pathLength="100" stroke-dasharray="12 100"/><circle class="K" r="27.5" pathLength="100" stroke-dasharray="1.5 100"/></g><text class="tl" x="2574" y="3140">f__Porphyromonadaceae</text></g>
<g id="n-sphingobacteriia"><g transform="translate(1095 3209) rotate(-90)"><circle class="G" r="55"/><circle class="P" r="27.5" pathLength="100" stroke-dasharray="51 100"/><circle class="O" r="27.5" pathLength="100" stroke-dasharray="23.3 100"/><circle class="B" r="27.5" pathLength="100" stroke-dasharray="20 100"/><circle class="K" r="27.5" pathLength="100" stroke-dasharray="8.6 100"/></g><text class="lb" x="798" y="3224">c__Sphingobacteriia</text></g>
<g id="n-sphingobacteriales"><g transform="translate(1441 3209) rotate(-90)"><circle class="G" r="55"/><circle class="P" r="27.5" pathLength="100" stroke-dasharray="51 100"/><circle class="O" r="27.5" pathLength="100" stroke-dasharray="24 100"/><circle class="B" r="27.5" pathLength="100" stroke-dasharray="20 100"/><circle class="K" r="27.5" pathLength="100" stroke-dasharray="8.3 100"/></g><text class="lb" x="1127" y="3224">o__Sphingobacteriales</text></g>
<g id="n-sphingobacteriaceae"><g transform="translate(1787 3209) rotate(-90)"><circle class="G" r="55"/><circle class="P" r="27.5" pathLength="100" stroke-dasharray="51 100"/><circle class="O" r="27.5" pathLength="100" stroke-dasharray="24 100"/><circle class="B" r="27.5" pathLength="100" stroke-dasharray="20 100"/><circle class="K" r="27.5" pathLength="100" stroke-dasharray="8.3 100"/></g><text class="tl" x="2574" y="3245">f__Sphingobacteriaceae</text></g>
<g id="n-flavobacteriia"><g transform="translate(1095 3314) rotate(-90)"><circle class="G" r="55"/><circle class="P" r="27.5" pathLength="100" stroke-dasharray="71 100"/><circle class="O" r="27.5" pathLength="100" stroke-dasharray="47.8 100"/><circle class="B" r="27.5" pathLength="100" stroke-dasharray="25 100"/><circle class="K" r="27.5" pathLength="100" stroke-dasharray="13.3 100"/></g><text class="lb" x="818" y="3329">c__Flavobacteriia</text></g>
<g id="n-flavobacteriales"><g transform="translate(1441 3314) rotate(-90)"><circle class="G" r="55"/><circle class="P" r="27.5" pathLength="100" stroke-dasharray="70 100"/><circle class="O" r="27.5" pathLength="100" stroke-dasharray="49 100"/><circle class="B" r="27.5" pathLength="100" stroke-dasharray="25 100"/><circle class="K" r="27.5" pathLength="100" stroke-dasharray="13.3 100"/></g><text class="lb" x="1147" y="3329">o__Flavobacteriales</text></g>
<g id="n-flavobacteriaceae"><g transform="translate(1787 3314) rotate(-90)"><circle class="G" r="55"/><circle class="P" r="27.5" pathLength="100" stroke-dasharray="70 100"/><circle class="O" r="27.5" pathLength="100" stroke-dasharray="48.6 100"/><circle class="B" r="27.5" pathLength="100" stroke-dasharray="25 100"/><circle class="K" r="27.5" pathLength="100" stroke-dasharray="13 100"/></g><text class="tl" x="2574" y="3350">f__Flavobacteriaceae</text></g>
<g id="n-cytophagia"><g transform="translate(1095 3419) rotate(-90)"><circle class="G" r="55"/><circle class="P" r="27.5" pathLength="100" stroke-dasharray="50 100"/><circle class="O" r="27.5" pathLength="100" stroke-dasharray="25.5 100"/><circle class="B" r="27.5" pathLength="100" stroke-dasharray="21 100"/><circle class="K" r="27.5" pathLength="100" stroke-dasharray="9.4 100"/></g><text class="lb" x="834" y="3434">c__Cytophagia</text></g>
<g id="n-cytophagales"><g transform="translate(1441 3419) rotate(-90)"><circle class="G" r="55"/><circle class="P" r="27.5" pathLength="100" stroke-dasharray="50 100"/><circle class="O" r="27.5" pathLength="100" stroke-dasharray="25.5 100"/><circle class="B" r="27.5" pathLength="100" stroke-dasharray="21 100"/><circle class="K" r="27.5" pathLength="100" stroke-dasharray="7.8 100"/></g><text class="lb" x="1165" y="3434">o__Cytophagales</text></g>
<g id="n-cytophagaceae"><g transform="translate(1787 3419) rotate(-90)"><circle class="G" r="55"/><circle class="P" r="27.5" pathLength="100" stroke-dasharray="56.4 100"/><circle class="O" r="27.5" pathLength="100" stroke-dasharray="29.7 100"/><circle class="B" r="27.5" pathLength="100" stroke-dasharray="24.4 100"/><circle class="K" r="27.5" pathLength="100" stroke-dasharray="8 100"/></g><text class="tl" x="2574" y="3455">f__Cytophagaceae</text></g>
<g id="n-chitinophagia"><g transform="translate(1095 3524) rotate(-90)"><circle class="G" r="55"/><circle class="P" r="27.5" pathLength="100" stroke-dasharray="54 100"/><circle class="O" r="27.5" pathLength="100" stroke-dasharray="30.8 100"/><circle class="B" r="27.5" pathLength="100" stroke-dasharray="25 100"/><circle class="K" r="27.5" pathLength="100" stroke-dasharray="13.6 100"/></g><text class="lb" x="820" y="3539">c__Chitinophagia</text></g>
<g id="n-chitinophagales"><g transform="translate(1441 3524) rotate(-90)"><circle class="G" r="55"/><circle class="P" r="27.5" pathLength="100" stroke-dasharray="54 100"/><circle class="O" r="27.5" pathLength="100" stroke-dasharray="30.6 100"/><circle class="B" r="27.5" pathLength="100" stroke-dasharray="25 100"/><circle class="K" r="27.5" pathLength="100" stroke-dasharray="13.6 100"/></g><text class="lb" x="1148" y="3539">o__Chitinophagales</text></g>
<g id="n-chitinophagaceae"><g transform="translate(1787 3524) rotate(-90)"><circle class="G" r="55"/><circle class="P" r="27.5" pathLength="100" stroke-dasharray="53 100"/><circle class="O" r="27.5" pathLength="100" stroke-dasharray="30.6 100"/><circle class="B" r="27.5" pathLength="100" stroke-dasharray="25 100"/><circle class="K" r="27.5" pathLength="100" stroke-dasharray="13.6 100"/></g><text class="tl" x="2574" y="3560">f__Chitinophagaceae</text></g>
<g id="n-firmicutes"><g transform="translate(749 3786.5) rotate(-90)"><circle class="G" r="55"/><circle class="P" r="27.5" pathLength="100" stroke-dasharray="94.8 100"/><circle class="O" r="27.5" pathLength="100" stroke-dasharray="88 100"/><circle class="B" r="27.5" pathLength="100" stroke-dasharray="58 100"/><circle class="K" r="27.5" pathLength="100" stroke-dasharray="32.8 100"/></g><text class="lb" x="494" y="3801.5">p__Firmicutes</text></g>
<g id="n-clostridia"><g transform="translate(1095 3681.5) rotate(-90)"><circle class="G" r="55"/><circle class="P" r="27.5" pathLength="100" stroke-dasharray="97 100"/><circle class="O" r="27.5" pathLength="100" stroke-dasharray="90.5 100"/><circle class="B" r="27.5" pathLength="100" stroke-dasharray="49.4 100"/><circle class="K" r="27.5" pathLength="100" stroke-dasharray="23 100"/></g><text class="lb" x="847" y="3696.5">c__Clostridia</text></g>
<g id="n-clostridiales"><g transform="translate(1441 3681.5) rotate(-90)"><circle class="G" r="55"/><circle class="P" r="27.5" pathLength="100" stroke-dasharray="97 100"/><circle class="O" r="27.5" pathLength="100" stroke-dasharray="91 100"/><circle class="B" r="27.5" pathLength="100" stroke-dasharray="49 100"/><circle class="K" r="27.5" pathLength="100" stroke-dasharray="23 100"/></g><text class="lb" x="1174" y="3696.5">o__Clostridiales</text></g>
<g id="n-peptococcaceae"><g transform="translate(1787 3629) rotate(-90)"><circle class="G" r="55"/><circle class="P" r="27.5" pathLength="100" stroke-dasharray="98.6 100"/><circle class="O" r="27.5" pathLength="100" stroke-dasharray="94 100"/><circle class="B" r="27.5" pathLength="100" stroke-dasharray="49.4 100"/><circle class="K" r="27.5" pathLength="100" stroke-dasharray="23 100"/></g><text class="tl" x="2574" y="3665">f__Peptococcaceae</text></g>
<g id="n-clostridiaceae"><g transform="translate(1787 3734) rotate(-90)"><circle class="G" r="55"/><circle class="P" r="27.5" pathLength="100" stroke-dasharray="96 100"/><circle class="O" r="27.5" pathLength="100" stroke-dasharray="90 100"/><circle class="B" r="27.5" pathLength="100" stroke-dasharray="49 100"/><circle class="K" r="27.5" pathLength="100" stroke-dasharray="22 100"/></g><text class="tl" x="2574" y="3770">f__Clostridiaceae</text></g>
<g id="n-bacilli"><g transform="translate(1095 3891.5) rotate(-90)"><circle class="G" r="55"/><circle class="P" r="27.5" pathLength="100" stroke-dasharray="93 100"/><circle class="O" r="27.5" pathLength="100" stroke-dasharray="83 100"/><circle class="B" r="27.5" pathLength="100" stroke-dasharray="49 100"/><circle class="K" r="27.5" pathLength="100" stroke-dasharray="26 100"/></g><text class="lb" x="872" y="3906.5">c__Bacilli</text></g>
<g id="n-bacillales"><g transform="translate(1441 3891.5) rotate(-90)"><circle class="G" r="55"/><circle class="P" r="27.5" pathLength="100" stroke-dasharray="94 100"/><circle class="O" r="27.5" pathLength="100" stroke-dasharray="83.6 100"/><circle class="B" r="27.5" pathLength="100" stroke-dasharray="49 100"/><circle class="K" r="27.5" pathLength="100" stroke-dasharray="26 100"/></g><text class="lb" x="1192" y="3906.5">o__Bacillales</text></g>
<g id="n-paenibacillaceae"><g transform="translate(1787 3839) rotate(-90)"><circle class="G" r="55"/><circle class="P" r="27.5" pathLength="100" stroke-dasharray="93.6 100"/><circle class="O" r="27.5" pathLength="100" stroke-dasharray="86 100"/><circle class="B" r="27.5" pathLength="100" stroke-dasharray="50 100"/><circle class="K" r="27.5" pathLength="100" stroke-dasharray="25 100"/></g><text class="tl" x="2574" y="3875">f__Paenibacillaceae</text></g>
<g id="n-bacillaceae"><g transform="translate(1787 3944) rotate(-90)"><circle class="G" r="55"/><circle class="P" r="27.5" pathLength="100" stroke-dasharray="93.3 100"/><circle class="O" r="27.5" pathLength="100" stroke-dasharray="87 100"/><circle class="B" r="27.5" pathLength="100" stroke-dasharray="41.4 100"/><circle class="K" r="27.5" pathLength="100" stroke-dasharray="25 100"/></g><text class="lb" x="1529" y="3959">f__Bacillaceae</text></g>
<g id="n-bacillus"><g transform="translate(2134 3944) rotate(-90)"><circle class="G" r="55"/><circle class="P" r="27.5" pathLength="100" stroke-dasharray="92.5 100"/><circle class="O" r="27.5" pathLength="100" stroke-dasharray="86.7 100"/><circle class="B" r="27.5" pathLength="100" stroke-dasharray="36.7 100"/><circle class="K" r="27.5" pathLength="100" stroke-dasharray="21.7 100"/></g><text class="tl" x="2574" y="3980">g__Bacillus</text></g>
<g id="n-chloroflexi"><g transform="translate(749 4101.5) rotate(-90)"><circle class="G" r="55"/><circle class="P" r="27.5" pathLength="100" stroke-dasharray="94 100"/><circle class="O" r="27.5" pathLength="100" stroke-dasharray="71.4 100"/><circle class="B" r="27.5" pathLength="100" stroke-dasharray="56.4 100"/><circle class="K" r="27.5" pathLength="100" stroke-dasharray="25 100"/></g><text class="lb" x="493" y="4116.5">p__Chloroflexi</text></g>
<g id="n-thermomicrobia"><g transform="translate(1095 4049) rotate(-90)"><circle class="G" r="55"/><circle class="P" r="27.5" pathLength="100" stroke-dasharray="98.6 100"/><circle class="O" r="27.5" pathLength="100" stroke-dasharray="85.5 100"/><circle class="B" r="27.5" pathLength="100" stroke-dasharray="74 100"/><circle class="K" r="27.5" pathLength="100" stroke-dasharray="54 100"/></g><text class="lb" x="801" y="4064">c__Thermomicrobia</text></g>
<g id="n-sphaerobacterales"><g transform="translate(1441 4049) rotate(-90)"><circle class="G" r="55"/><circle class="P" r="27.5" pathLength="100" stroke-dasharray="98.6 100"/><circle class="O" r="27.5" pathLength="100" stroke-dasharray="86 100"/><circle class="B" r="27.5" pathLength="100" stroke-dasharray="75 100"/><circle class="K" r="27.5" pathLength="100" stroke-dasharray="54 100"/></g><text class="lb" x="1129" y="4064">o__Sphaerobacterales</text></g>
<g id="n-sphaerobacteraceae"><g transform="translate(1787 4049) rotate(-90)"><circle class="G" r="55"/><circle class="P" r="27.5" pathLength="100" stroke-dasharray="99.4 100"/><circle class="O" r="27.5" pathLength="100" stroke-dasharray="89 100"/><circle class="B" r="27.5" pathLength="100" stroke-dasharray="77 100"/><circle class="K" r="27.5" pathLength="100" stroke-dasharray="54.4 100"/></g><text class="lb" x="1467" y="4064">f__Sphaerobacteraceae</text></g>
<g id="n-sphaerobacter-g"><g transform="translate(2134 4049) rotate(-90)"><circle class="G" r="55"/><circle class="P" r="27.5" pathLength="100" stroke-dasharray="99.4 100"/><circle class="O" r="27.5" pathLength="100" stroke-dasharray="90.5 100"/><circle class="B" r="27.5" pathLength="100" stroke-dasharray="80 100"/><circle class="K" r="27.5" pathLength="100" stroke-dasharray="54.7 100"/></g><text class="lb" x="1826" y="4064">g__Sphaerobacter</text></g>
<g id="n-sphaerobacter-s"><g transform="translate(2480 4049) rotate(-90)"><circle class="G" r="55"/><circle class="P" r="27.5" pathLength="100" stroke-dasharray="99.4 100"/><circle class="O" r="27.5" pathLength="100" stroke-dasharray="91 100"/><circle class="B" r="27.5" pathLength="100" stroke-dasharray="80 100"/><circle class="K" r="27.5" pathLength="100" stroke-dasharray="54.7 100"/></g><text class="tl" x="2574" y="4085">s__Sphaerobacter thermophilus</text></g>
<g id="n-anaerolineae"><g transform="translate(1095 4154) rotate(-90)"><circle class="G" r="55"/><circle class="P" r="27.5" pathLength="100" stroke-dasharray="98.8 100"/><circle class="O" r="27.5" pathLength="100" stroke-dasharray="69.4 100"/><circle class="B" r="27.5" pathLength="100" stroke-dasharray="54 100"/><circle class="K" r="27.5" pathLength="100" stroke-dasharray="16.4 100"/></g><text class="lb" x="820" y="4169">c__Anaerolineae</text></g>
<g id="n-anaerolineales"><g transform="translate(1441 4154) rotate(-90)"><circle class="G" r="55"/><circle class="P" r="27.5" pathLength="100" stroke-dasharray="99 100"/><circle class="O" r="27.5" pathLength="100" stroke-dasharray="74.4 100"/><circle class="B" r="27.5" pathLength="100" stroke-dasharray="53 100"/><circle class="K" r="27.5" pathLength="100" stroke-dasharray="20 100"/></g><text class="lb" x="1156" y="4169">o__Anaerolineales</text></g>
<g id="n-anaerolineaceae"><g transform="translate(1787 4154) rotate(-90)"><circle class="G" r="55"/><circle class="P" r="27.5" pathLength="100" stroke-dasharray="99.2 100"/><circle class="O" r="27.5" pathLength="100" stroke-dasharray="75.6 100"/><circle class="B" r="27.5" pathLength="100" stroke-dasharray="53 100"/><circle class="K" r="27.5" pathLength="100" stroke-dasharray="20 100"/></g><text class="tl" x="2574" y="4190">f__Anaerolineaceae</text></g>
<g id="n-verrucomicrobia"><g transform="translate(749 4260) rotate(-90)"><circle class="G" r="55"/><circle class="P" r="27.5" pathLength="100" stroke-dasharray="70 100"/><circle class="O" r="27.5" pathLength="100" stroke-dasharray="37 100"/><circle class="B" r="27.5" pathLength="100" stroke-dasharray="31 100"/><circle class="K" r="27.5" pathLength="100" stroke-dasharray="14 100"/></g><text class="tl" x="2574" y="4296">p__Verrucomicrobia</text></g>
<g id="n-planctomycetes"><g transform="translate(749 4365) rotate(-90)"><circle class="G" r="55"/><circle class="P" r="27.5" pathLength="100" stroke-dasharray="75 100"/><circle class="O" r="27.5" pathLength="100" stroke-dasharray="54.4 100"/><circle class="B" r="27.5" pathLength="100" stroke-dasharray="46 100"/><circle class="K" r="27.5" pathLength="100" stroke-dasharray="18.8 100"/></g><text class="lb" x="458" y="4380">p__Planctomycetes</text></g>
<g id="n-planctomycetia"><g transform="translate(1095 4365) rotate(-90)"><circle class="G" r="55"/><circle class="P" r="27.5" pathLength="100" stroke-dasharray="77.8 100"/><circle class="O" r="27.5" pathLength="100" stroke-dasharray="51.7 100"/><circle class="B" r="27.5" pathLength="100" stroke-dasharray="44.4 100"/><circle class="K" r="27.5" pathLength="100" stroke-dasharray="17 100"/></g><text class="lb" x="808" y="4380">c__Planctomycetia</text></g>
<g id="n-planctomycetales"><g transform="translate(1441 4365) rotate(-90)"><circle class="G" r="55"/><circle class="P" r="27.5" pathLength="100" stroke-dasharray="77.8 100"/><circle class="O" r="27.5" pathLength="100" stroke-dasharray="51.4 100"/><circle class="B" r="27.5" pathLength="100" stroke-dasharray="44.4 100"/><circle class="K" r="27.5" pathLength="100" stroke-dasharray="17.2 100"/></g><text class="lb" x="1138" y="4380">o__Planctomycetales</text></g>
<g id="n-planctomycetaceae"><g transform="translate(1787 4365) rotate(-90)"><circle class="G" r="55"/><circle class="P" r="27.5" pathLength="100" stroke-dasharray="77.8 100"/><circle class="O" r="27.5" pathLength="100" stroke-dasharray="51 100"/><circle class="B" r="27.5" pathLength="100" stroke-dasharray="44.4 100"/><circle class="K" r="27.5" pathLength="100" stroke-dasharray="16.7 100"/></g><text class="tl" x="2574" y="4401">f__Planctomycetaceae</text></g>
<g id="n-gemmatimonadetes"><g transform="translate(749 4470) rotate(-90)"><circle class="G" r="55"/><circle class="P" r="27.5" pathLength="100" stroke-dasharray="87.5 100"/><circle class="O" r="27.5" pathLength="100" stroke-dasharray="66.7 100"/><circle class="B" r="27.5" pathLength="100" stroke-dasharray="56.4 100"/><circle class="K" r="27.5" pathLength="100" stroke-dasharray="25 100"/></g><text class="tl" x="2574" y="4506">p__Gemmatimonadetes</text></g>
<g id="n-acidobacteria"><g transform="translate(749 4575) rotate(-90)"><circle class="G" r="55"/><circle class="P" r="27.5" pathLength="100" stroke-dasharray="89.5 100"/><circle class="O" r="27.5" pathLength="100" stroke-dasharray="69.4 100"/><circle class="B" r="27.5" pathLength="100" stroke-dasharray="53 100"/><circle class="K" r="27.5" pathLength="100" stroke-dasharray="25 100"/></g><text class="tl" x="2574" y="4611">p__Acidobacteria</text></g>
<g id="n-viruses"><g transform="translate(402.6 4680) rotate(-90)"><circle class="G" r="55"/><circle class="P" r="27.5" pathLength="100" stroke-dasharray="76.4 100"/><circle class="O" r="27.5" pathLength="100" stroke-dasharray="60.6 100"/><circle class="B" r="27.5" pathLength="100" stroke-dasharray="40.3 100"/><circle class="K" r="27.5" pathLength="100" stroke-dasharray="19.7 100"/></g><text class="tl" x="2574" y="4716">d__Viruses</text></g>
<g id="n-eukaryota"><g transform="translate(402.6 4785) rotate(-90)"><circle class="G" r="55"/><circle class="P" r="27.5" pathLength="100" stroke-dasharray="43.6 100"/><circle class="O" r="27.5" pathLength="100" stroke-dasharray="27.8 100"/><circle class="B" r="27.5" pathLength="100" stroke-dasharray="25 100"/><circle class="K" r="27.5" pathLength="100" stroke-dasharray="8.6 100"/></g><text class="tl" x="2574" y="4821">d__Eukaryota</text></g>
<g id="n-archaea"><g transform="translate(402.6 4890) rotate(-90)"><circle class="G" r="55"/><circle class="P" r="27.5" pathLength="100" stroke-dasharray="97 100"/><circle class="O" r="27.5" pathLength="100" stroke-dasharray="73.6 100"/><circle class="B" r="27.5" pathLength="100" stroke-dasharray="49 100"/><circle class="K" r="27.5" pathLength="100" stroke-dasharray="15 100"/></g><text class="lb" x="163" y="4905">d__Archaea</text></g>
<g id="n-euryarchaeota"><g transform="translate(749 4890) rotate(-90)"><circle class="G" r="55"/><circle class="P" r="27.5" pathLength="100" stroke-dasharray="94 100"/><circle class="O" r="27.5" pathLength="100" stroke-dasharray="74 100"/><circle class="B" r="27.5" pathLength="100" stroke-dasharray="49 100"/><circle class="K" r="27.5" pathLength="100" stroke-dasharray="14.4 100"/></g><text class="lb" x="466" y="4905">p__Euryarchaeota</text></g>
<g id="n-methanomicrobia"><g transform="translate(1095 4890) rotate(-90)"><circle class="G" r="55"/><circle class="P" r="27.5" pathLength="100" stroke-dasharray="95 100"/><circle class="O" r="27.5" pathLength="100" stroke-dasharray="70 100"/><circle class="B" r="27.5" pathLength="100" stroke-dasharray="49.7 100"/><circle class="K" r="27.5" pathLength="100" stroke-dasharray="14.4 100"/></g><text class="lb" x="799" y="4905">c__Methanomicrobia</text></g>
<g id="n-methanosarcinales"><g transform="translate(1441 4890) rotate(-90)"><circle class="G" r="55"/><circle class="P" r="27.5" pathLength="100" stroke-dasharray="95.5 100"/><circle class="O" r="27.5" pathLength="100" stroke-dasharray="71.4 100"/><circle class="B" r="27.5" pathLength="100" stroke-dasharray="49 100"/><circle class="K" r="27.5" pathLength="100" stroke-dasharray="14.7 100"/></g><text class="lb" x="1129" y="4905">o__Methanosarcinales</text></g>
<g id="n-methanosarcinaceae"><g transform="translate(1787 4890) rotate(-90)"><circle class="G" r="55"/><circle class="P" r="27.5" pathLength="100" stroke-dasharray="95.5 100"/><circle class="O" r="27.5" pathLength="100" stroke-dasharray="71 100"/><circle class="B" r="27.5" pathLength="100" stroke-dasharray="49 100"/><circle class="K" r="27.5" pathLength="100" stroke-dasharray="15 100"/></g><text class="lb" x="1467" y="4905">f__Methanosarcinaceae</text></g>
<g id="n-methanosarcina"><g transform="translate(2134 4890) rotate(-90)"><circle class="G" r="55"/><circle class="P" r="27.5" pathLength="100" stroke-dasharray="95.5 100"/><circle class="O" r="27.5" pathLength="100" stroke-dasharray="70.5 100"/><circle class="B" r="27.5" pathLength="100" stroke-dasharray="50 100"/><circle class="K" r="27.5" pathLength="100" stroke-dasharray="14.7 100"/></g><text class="tl" x="2574" y="4926">g__Methanosarcina</text></g>
<g id="legend">
<text class="lg" x="3115" y="2241">Group</text>
<rect x="3156" y="2302" width="28" height="28" fill="#7FC97F"/>
<rect x="3156" y="2378" width="28" height="28" fill="#BEAED4"/>
<rect x="3156" y="2454" width="28" height="28" fill="#FDC086"/>
<rect x="3156" y="2529" width="28" height="28" fill="#386CB0"/>
<rect x="3156" y="2605" width="28" height="28" fill="#F0027F"/>
<text class="lg" x="3230" y="2338">NY1_0425</text>
<text class="lg" x="3230" y="2414">NY1_0504</text>
<text class="lg" x="3230" y="2490">NY1_0510</text>
<text class="lg" x="3230" y="2565">NY1_0515</text>
<text class="lg" x="3230" y="2641">NY1_0521</text>
</g>
</svg>
